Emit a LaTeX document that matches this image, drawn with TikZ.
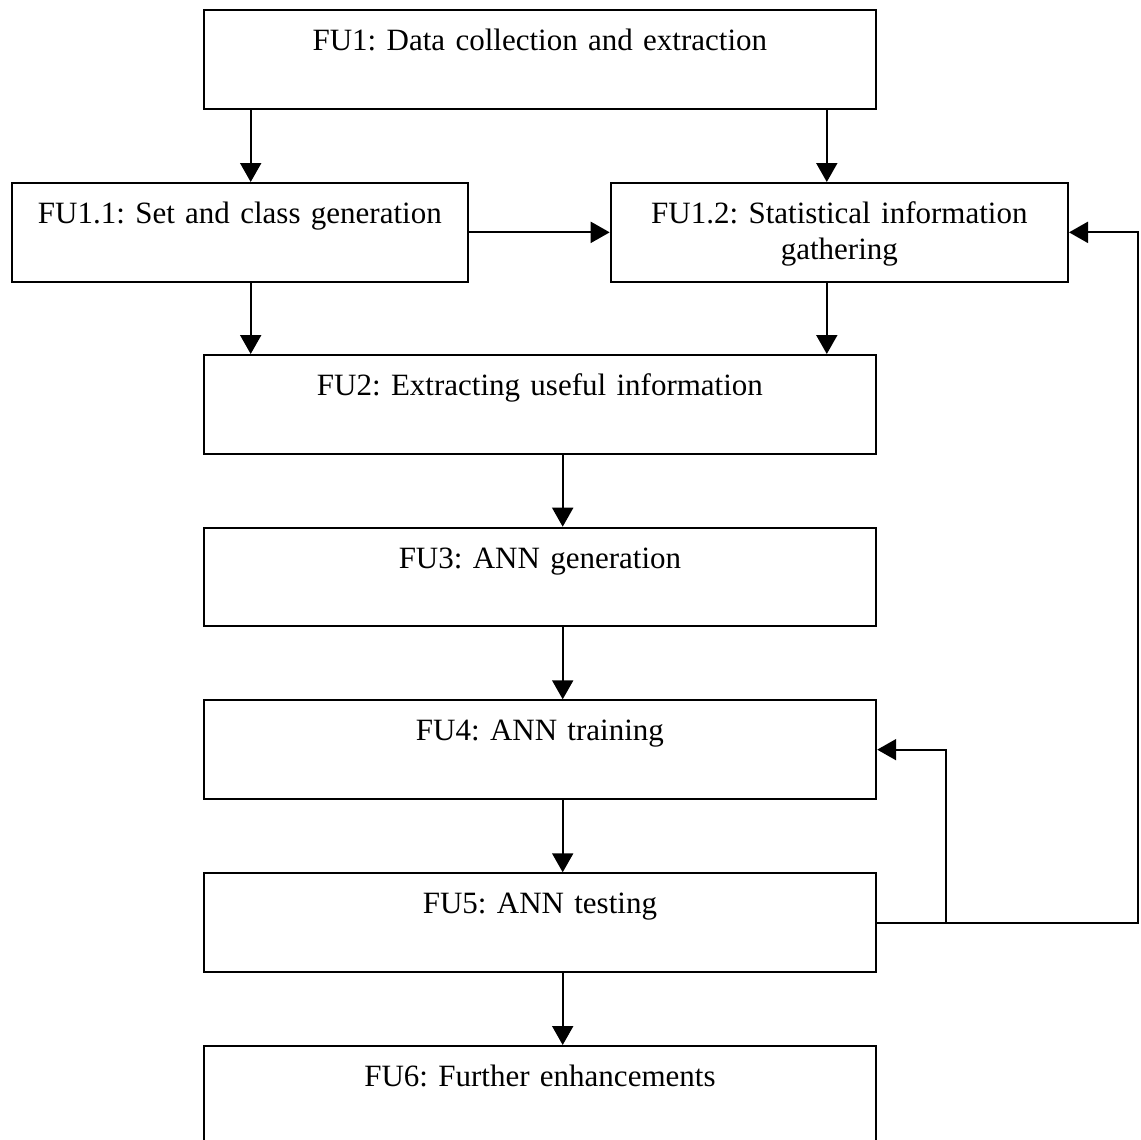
\documentclass[tikz,border=0pt]{standalone}
\usepackage{fontspec}
\setmainfont{Liberation Serif}
\usetikzlibrary{arrows.meta}
\frenchspacing
\begin{document}
\begin{tikzpicture}[x=0.5pt,y=-0.5pt,
  fubox/.style={draw, line width=1pt, inner sep=0pt, anchor=north west,
    text width=#1, align=center, text height=20.25pt, text depth=29.1pt,
    font=\fontsize{15.5}{18}\selectfont},
  arr/.style={line width=1pt, -{Triangle[length=9.5pt,width=10.5pt]}}]
\useasboundingbox (0,0) rectangle (1141,1140);
\clip (0,0) rectangle (1141,1140);

% functional units
\node[fubox=336.35pt] (fu1)  at (202.5,9.3)   {FU1: Data collection and extraction};
\node[fubox=228.15pt] (fu11) at (10.7,182)    {FU1.1: Set and class generation};
\node[fubox=228.65pt] (fu12) at (609.7,182)   {FU1.2: Statistical information\\gathering};
\node[fubox=336.25pt] (fu2)  at (202.7,354)   {FU2: Extracting useful information};
\node[fubox=336.25pt] (fu3)  at (202.7,526.7) {FU3: ANN generation};
\node[fubox=336.25pt] (fu4)  at (202.7,699.3) {FU4: ANN training};
\node[fubox=336.25pt] (fu5)  at (202.7,872.3) {FU5: ANN testing};
\node[fubox=336.25pt] (fu6)  at (202.7,1045)  {FU6: Further enhancements};

% vertical lanes of the connectors
\coordinate (xl)  at (250.7,0);
\coordinate (xr)  at (826.8,0);
\coordinate (xc)  at (562.7,0);
\coordinate (xbr) at (946,0);
\coordinate (xfb) at (1138,0);

% flow
\draw[arr] (fu1.south -| xl) -- (fu11.north -| xl);
\draw[arr] (fu1.south -| xr) -- (fu12.north -| xr);
\draw[arr] (fu11.east) -- (fu12.west);
\draw[arr] (fu11.south -| xl) -- (fu2.north -| xl);
\draw[arr] (fu12.south -| xr) -- (fu2.north -| xr);
\draw[arr] (fu2.south -| xc) -- (fu3.north -| xc);
\draw[arr] (fu3.south -| xc) -- (fu4.north -| xc);
\draw[arr] (fu4.south -| xc) -- (fu5.north -| xc);
\draw[arr] (fu5.south -| xc) -- (fu6.north -| xc);

% feedback loops
\draw[arr] (fu5.east) -| (fu12.east -| xfb) -- (fu12.east);
\draw[arr] (fu5.east -| xbr) |- (fu4.east);
\end{tikzpicture}
\end{document}
